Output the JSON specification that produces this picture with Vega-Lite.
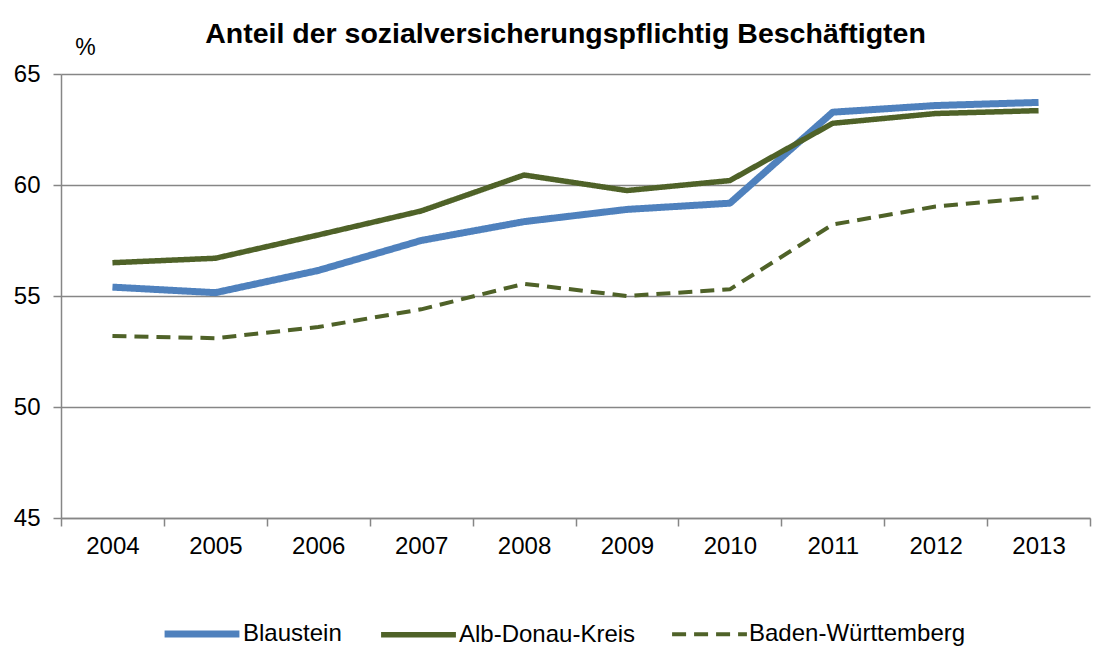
{
  "$schema": "https://vega.github.io/schema/vega-lite/v6.json",
  "width": 1029,
  "height": 444,
  "autosize": {"type": "none"},
  "padding": {"left": 61, "top": 74, "right": 9, "bottom": 130},
  "background": "white",
  "title": {
    "text": "Anteil der sozialversicherungspflichtig Beschäftigten",
    "font": "Liberation Sans",
    "fontSize": 28.5,
    "fontWeight": "bold",
    "color": "#000000",
    "anchor": "middle",
    "dx": -10,
    "offset": -12
  },
  "config": {
    "view": {"stroke": null},
    "font": "Liberation Sans",
    "axis": {
      "labelFont": "Liberation Sans",
      "labelFontSize": 24,
      "labelColor": "#000000",
      "domainColor": "#868686",
      "tickColor": "#868686",
      "gridColor": "#868686",
      "domainWidth": 1.5,
      "tickWidth": 1.5
    }
  },
  "data": {
    "values": [
      {"Jahr": "2004", "Reihe": "Blaustein", "Wert": 55.4},
      {"Jahr": "2005", "Reihe": "Blaustein", "Wert": 55.15},
      {"Jahr": "2006", "Reihe": "Blaustein", "Wert": 56.15},
      {"Jahr": "2007", "Reihe": "Blaustein", "Wert": 57.5},
      {"Jahr": "2008", "Reihe": "Blaustein", "Wert": 58.35},
      {"Jahr": "2009", "Reihe": "Blaustein", "Wert": 58.9},
      {"Jahr": "2010", "Reihe": "Blaustein", "Wert": 59.18},
      {"Jahr": "2011", "Reihe": "Blaustein", "Wert": 63.28},
      {"Jahr": "2012", "Reihe": "Blaustein", "Wert": 63.58},
      {"Jahr": "2013", "Reihe": "Blaustein", "Wert": 63.72},
      {"Jahr": "2004", "Reihe": "Alb-Donau-Kreis", "Wert": 56.5},
      {"Jahr": "2005", "Reihe": "Alb-Donau-Kreis", "Wert": 56.7},
      {"Jahr": "2006", "Reihe": "Alb-Donau-Kreis", "Wert": 57.75},
      {"Jahr": "2007", "Reihe": "Alb-Donau-Kreis", "Wert": 58.83},
      {"Jahr": "2008", "Reihe": "Alb-Donau-Kreis", "Wert": 60.45},
      {"Jahr": "2009", "Reihe": "Alb-Donau-Kreis", "Wert": 59.75},
      {"Jahr": "2010", "Reihe": "Alb-Donau-Kreis", "Wert": 60.2},
      {"Jahr": "2011", "Reihe": "Alb-Donau-Kreis", "Wert": 62.78},
      {"Jahr": "2012", "Reihe": "Alb-Donau-Kreis", "Wert": 63.22},
      {"Jahr": "2013", "Reihe": "Alb-Donau-Kreis", "Wert": 63.35},
      {"Jahr": "2004", "Reihe": "Baden-Württemberg", "Wert": 53.2},
      {"Jahr": "2005", "Reihe": "Baden-Württemberg", "Wert": 53.1},
      {"Jahr": "2006", "Reihe": "Baden-Württemberg", "Wert": 53.6},
      {"Jahr": "2007", "Reihe": "Baden-Württemberg", "Wert": 54.4},
      {"Jahr": "2008", "Reihe": "Baden-Württemberg", "Wert": 55.55},
      {"Jahr": "2009", "Reihe": "Baden-Württemberg", "Wert": 55.0},
      {"Jahr": "2010", "Reihe": "Baden-Württemberg", "Wert": 55.3},
      {"Jahr": "2011", "Reihe": "Baden-Württemberg", "Wert": 58.22},
      {"Jahr": "2012", "Reihe": "Baden-Württemberg", "Wert": 59.03},
      {"Jahr": "2013", "Reihe": "Baden-Württemberg", "Wert": 59.45}
    ]
  },
  "mark": {"type": "line", "strokeJoin": "round", "strokeCap": "butt"},
  "encoding": {
    "x": {
      "field": "Jahr",
      "type": "ordinal",
      "scale": {"type": "band", "paddingInner": 0, "paddingOuter": 0},
      "axis": {
        "title": null,
        "labelAngle": 0,
        "tickBand": "extent",
        "tickSize": 8,
        "labelPadding": 8,
        "grid": false
      }
    },
    "y": {
      "field": "Wert",
      "type": "quantitative",
      "scale": {"domain": [45, 65], "nice": false, "zero": false},
      "axis": {
        "values": [45, 50, 55, 60, 65],
        "title": "%",
        "titleAngle": 0,
        "titleFont": "Liberation Sans",
        "titleFontSize": 23,
        "titleFontWeight": "normal",
        "titleColor": "#000000",
        "titleAlign": "center",
        "titleBaseline": "middle",
        "titleX": 24,
        "titleY": -27,
        "grid": true,
        "gridWidth": 1.5,
        "tickSize": 8,
        "labelPadding": 13
      }
    },
    "color": {
      "field": "Reihe",
      "type": "nominal",
      "sort": ["Blaustein", "Alb-Donau-Kreis", "Baden-Württemberg"],
      "scale": {
        "domain": ["Blaustein", "Alb-Donau-Kreis", "Baden-Württemberg"],
        "range": ["#4F81BD", "#4F6228", "#4F6228"]
      },
      "legend": {
        "title": null,
        "orient": "none",
        "direction": "horizontal",
        "legendX": 100,
        "legendY": 519,
        "symbolType": "stroke",
        "symbolSize": 5600,
        "labelFont": "Liberation Sans",
        "labelFontSize": 24,
        "labelLimit": 400,
        "labelColor": "#000000",
        "labelOffset": 0,
        "columnPadding": 28,
        "symbolStrokeWidth": 6
      }
    },
    "strokeWidth": {
      "field": "Reihe",
      "type": "nominal",
      "scale": {
        "domain": ["Blaustein", "Alb-Donau-Kreis", "Baden-Württemberg"],
        "range": [7, 4, 5]
      },
      "legend": null
    },
    "strokeDash": {
      "field": "Reihe",
      "type": "nominal",
      "scale": {
        "domain": ["Blaustein", "Alb-Donau-Kreis", "Baden-Württemberg"],
        "range": [[1, 0], [1, 0], [14, 8]]
      },
      "legend": null
    }
  }
}
